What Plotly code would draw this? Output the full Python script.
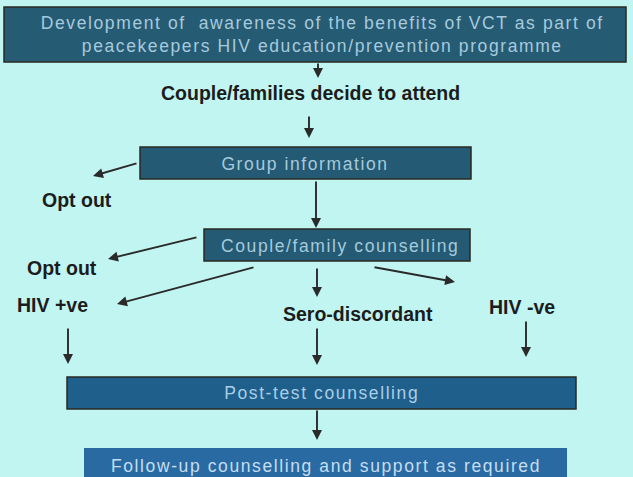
import json
import plotly.graph_objects as go

# ---- content ----
box_labels = [
    "Development of  awareness of the benefits of VCT as part of<br>peacekeepers HIV education/prevention programme",
    "Group information",
    "Couple/family counselling",
    "Post-test counselling",
    "Follow-up counselling and support as required",
]
step_labels = [
    "Couple/families decide to attend",
    "Opt out",
    "Opt out",
    "HIV +ve",
    "Sero-discordant",
    "HIV -ve",
]

# ---- layout geometry (pixels, y downwards) ----
box_x0 = [4, 140, 204, 67, 84]
box_x1 = [626, 471, 470, 576, 567]
box_y0 = [7, 147, 229, 377, 448]
box_y1 = [62, 179, 261, 409, 490]
box_fill = ["#265b74", "#245a73", "#245a73", "#1f5f8c", "#2a6aa3"]
box_line = [1.5, 1.5, 1.5, 1.5, 0]
box_text_xy = [(322, 34.5), (305, 163.5), (340, 246), (321, 393), (325.5, 466)]
box_text_col = ["#a6cadd", "#a6cadd", "#a6cadd", "#a9cee6", "#c4def0"]

step_xy = [(310, 92.5), (77, 199.5), (61.5, 267.5), (52.5, 305), (357.5, 313.5), (522, 306.5)]

# arrows: (tail_x, tail_y, head_x, head_y)
arrows = [
    (318, 62, 318, 78),
    (309, 115, 309, 138),
    (138, 163, 93, 176),
    (316, 180, 316, 228),
    (198, 237, 108, 259),
    (255, 267, 117, 304),
    (317, 267, 317, 297),
    (373, 267, 455, 282),
    (68, 327, 68, 364),
    (317, 327, 317, 365),
    (526, 320, 526, 357),
    (317, 409, 317, 440),
]

BG = "#c1f5f1"
W, H = 633, 477

fig = go.Figure()
fig.add_trace(go.Scatter(x=[0, W], y=[0, H], mode="markers",
                         marker=dict(opacity=0), hoverinfo="skip", showlegend=False))

for i in range(len(box_labels)):
    fig.add_shape(type="rect", xref="x", yref="y",
                  x0=box_x0[i], x1=box_x1[i], y0=box_y0[i], y1=box_y1[i],
                  fillcolor=box_fill[i],
                  line=dict(color="#2a2a22", width=box_line[i]) if box_line[i] else dict(width=0),
                  layer="below")

annos = []
box_anno_idx = []
for i, lab in enumerate(box_labels):
    box_anno_idx.append(len(annos))
    annos.append(dict(x=box_text_xy[i][0], y=box_text_xy[i][1], xref="x", yref="y",
                      text=lab, showarrow=False, xanchor="center", yanchor="middle",
                      align="center",
                      font=dict(family="Liberation Sans, Arial, sans-serif", size=17.5,
                                color=box_text_col[i])))

for lab, (x, y) in zip(step_labels, step_xy):
    annos.append(dict(x=x, y=y, xref="x", yref="y", text=lab, showarrow=False,
                      xanchor="center", yanchor="middle",
                      font=dict(family="Liberation Sans, Arial, sans-serif", size=19.5,
                                color="#1c1c1c", weight="bold")))

for (tx, ty, hx, hy) in arrows:
    annos.append(dict(x=hx, y=hy, ax=tx, ay=ty, xref="x", yref="y", axref="x", ayref="y",
                      text="", showarrow=True, arrowhead=2, arrowsize=1.05,
                      arrowwidth=1.9, arrowcolor="#2a2a2a", standoff=0))

fig.update_layout(
    width=W, height=H,
    margin=dict(l=0, r=0, t=0, b=0),
    paper_bgcolor=BG, plot_bgcolor=BG,
    xaxis=dict(range=[0, W], visible=False, fixedrange=True),
    yaxis=dict(range=[H, 0], visible=False, fixedrange=True),
    annotations=annos,
    showlegend=False,
)

post = """
document.documentElement.style.margin = '0';
document.documentElement.style.padding = '0';
document.documentElement.style.overflow = 'hidden';
document.body.style.margin = '0';
document.body.style.padding = '0';
document.body.style.background = '%s';
var gd = document.getElementById('{plot_id}');
var idx = %s;
function spacing(){
  gd.querySelectorAll('g.annotation').forEach(function(g){
    var k = parseInt(g.getAttribute('data-index'));
    if (idx.indexOf(k) >= 0) {
      var t = g.querySelector('text.annotation-text');
      if (t) { t.style.letterSpacing = '1.6px'; }
    }
  });
}
spacing();
""" % (BG, json.dumps(box_anno_idx))

fig.write_html("out.html", post_script=post, config={"displayModeBar": False})
